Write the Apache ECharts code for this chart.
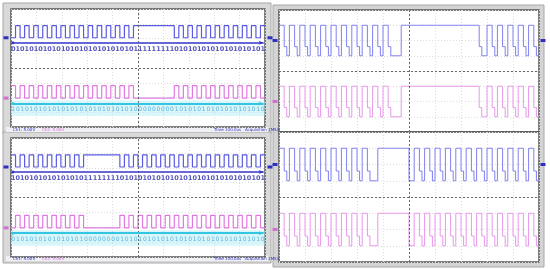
<!DOCTYPE html>
<html><head><meta charset="utf-8">
<script src="https://cdn.jsdelivr.net/npm/echarts@6/dist/echarts.min.js"></script>
<style>html,body{margin:0;padding:0;background:#fff}#c{width:550px;height:269px}</style>
</head><body><div id="c"></div>
<script>
// ---- data: decoded bit streams (left captures) ----
const bitsBlue1 = [0,1,0,1,0,1,0,1,0,1,0,1,0,1,0,1,0,1,0,1,0,1,0,1,0,1,0,1, 1,1,1,1,1,1,1,1, 0,1,0,1,0,1,0,1,0,1,0,1,0,1,0,1,0,1,0,1];
const bitsPink1 = [1,0,1,0,1,0,1,0,1,0,1,0,1,0,1,0,1,0,1,0,1,0,1,0,1,0,1,0, 0,0,0,0,0,0,0,0, 1,0,1,0,1,0,1,0,1,0,1,0,1,0,1,0,1,0,1,0];
const bitsBlue2 = [1,0,1,0,1,0,1,0,1,0,1,0,1,0,1,0, 1,1,1,1,1,1,1,1, 0,1,0,1,0,1,0,1,0,1,0,1,0,1,0,1,0,1,0,1,0,1,0,1,0,1,0,1,0,1,0,1];
const bitsPink2 = [0,1,0,1,0,1,0,1,0,1,0,1,0,1,0,1, 0,0,0,0,0,0,0,0, 1,0,1,0,1,0,1,0,1,0,1,0,1,0,1,0,1,0,1,0,1,0,1,0,1,0,1,0,1,0,1,0];
// ---- data: analog step levels (right captures) 0=low 1=mid 2=high ----
const lvlBlueA = [2,2,1,0,2,2,1,0,2,2,1,0,2,2,1,0,2,2,1,0,2,2,1,0,2,2,1,0,2,2,1,0,2,2,1,0,2,2,1,0,2,2,1,0, 0,0,0, 2,2,2,2,2,2,2,2,2,2,2,2,2,2,2,2,2,2,2,2,2,2,2,2,2,2,2,2,2,2, 1,0,0,2,2,1,0,2,2,1,0,2,2,1,0,2,2,1,0,2,2,1,0];
const lvlPinkA = [2,2,1,0,2,2,1,0,2,2,1,0,2,2,1,0,2,2,1,0,2,2,1,0,2,2,1,0,2,2,1,0,2,2,1,0,2,2,1,0,2,2,1,0, 0,0,0, 2,2,2,2,2,2,2,2,2,2,2,2,2,2,2,2,2,2,2,2,2,2,2,2,2,2,2,2,2,2, 1,0,0,2,2,1,0,2,2,1,0,2,2,1,0,2,2,1,0,2,2,1,0];
const lvlBlueB = [2,2,1,0,2,2,1,0,2,2,1,0,2,2,1,0,2,2,1,0,2,2,1,0,2,2,1,0,2,2,1,0,2,2,1,0, 0,0, 2,2,2,2,2,2,2,2,2,2,2,2, 0,0,2,2,1,0,2,2,1,0,2,2,1,0,2,2,1,0,2,2,1,0,2,2,1,0,2,2,1,0,2,2,1,0,2,2,1,0,2,2,1,0,2,2,1,0,2,2,1,0];
const lvlPinkB = [2,2,1,0,2,2,1,0,2,2,1,0,2,2,1,0,2,2,1,0,2,2,1,0,2,2,1,0,2,2,1,0,2,2,1,0, 0,0, 2,2,2,2,2,2,2,2,2,2,2,2, 0,0,2,2,1,0,2,2,1,0,2,2,1,0,2,2,1,0,2,2,1,0,2,2,1,0,2,2,1,0,2,2,1,0,2,2,1,0,2,2,1,0,2,2,1,0,2,2,1,0];
const statusLeft1 = ['Ch1: 5.00V', 'Ch2: 5.00V'];
const statusRight = 'Time 100.0us   Acquisition 1MS/s';

const chart = echarts.init(document.getElementById('c'));
const BLUE = '#5a5ae2', PINK = '#e07ae0', LBL1 = '#2c2cb0', LBL2 = '#3b9fd8';
const grids = [
  {left:11, top:9, width:254, height:118},
  {left:11, top:138, width:254, height:119},
  {left:279, top:10, width:260, height:122},
  {left:279, top:132, width:260, height:130}
].map(g => Object.assign(g, {show:true, backgroundColor:'#fff', borderColor:'#555', borderWidth:1.5}));

const xAxes = [], yAxes = [];
function axes(g, n){
  xAxes.push({type:'value', gridIndex:g, min:0, max:n, interval:n/10, axisLabel:{show:false}, axisTick:{show:false}, axisLine:{show:false},
    splitLine:{show:true, lineStyle:{color:'#dcdcdc', type:[1,2], width:1}}});
  yAxes.push({type:'value', gridIndex:g, min:0, max:8, interval:1, axisLabel:{show:false}, axisTick:{show:false}, axisLine:{show:false},
    splitLine:{show:true, lineStyle:{color:'#dcdcdc', type:[1,2], width:1}}});
}
function steps(arr, map){
  const d = arr.map((v,i)=>[i, map(v)]);
  d.push([arr.length, map(arr[arr.length-1])]);
  return d;
}
const centre = (n) => ({silent:true, symbol:'none', label:{show:false}, lineStyle:{color:'#6a6a6a', type:[2,2], width:1},
  data:[{xAxis:n/2},{yAxis:4}]});

const series = [];
function leftPanel(g, blue, pink){
  const n = blue.length;
  axes(g, n);
  series.push({type:'line', xAxisIndex:g, yAxisIndex:g, step:'end', showSymbol:false, animation:false,
    data: steps(blue, b => b ? 6.87 : 6.05), lineStyle:{color:BLUE, width:1.2},
    markLine: centre(n),
    markPoint:{silent:true, animation:false, label:{show:false}, data:[
      {coord:[0,6.05], symbol:'rect', symbolSize:[5,3], symbolOffset:[-5,0], itemStyle:{color:'#3030c0'}},
      {coord:[n,6.05], symbol:'rect', symbolSize:[5,3], symbolOffset:[5,0], itemStyle:{color:'#3030c0'}}]}
  });
  series.push({type:'line', xAxisIndex:g, yAxisIndex:g, step:'end', showSymbol:false, animation:false,
    data: steps(pink, b => b ? 2.8 : 1.96), lineStyle:{color:PINK, width:1.2},
    markArea:{silent:true, itemStyle:{color:'rgba(170,236,246,0.45)'}, data:[[{coord:[0,0.75]},{coord:[n,1.8]}]]},
    markLine:{silent:true, animation:false, label:{show:false}, symbol:['circle','arrow'], symbolSize:[3,5],
      lineStyle:{color:'#35c4e2', width:2, type:'solid'}, data:[[{coord:[0.4,1.6]},{coord:[n-0.3,1.6]}]]},
    markPoint:{silent:true, animation:false, label:{show:false}, data:[
      {coord:[0,1.96], symbol:'rect', symbolSize:[5,3], symbolOffset:[-5,0], itemStyle:{color:'#d070d0'}}]}
  });
  series.push({type:'line', xAxisIndex:g, yAxisIndex:g, data:[], animation:false,
    markLine:{silent:true, animation:false, label:{show:false}, symbol:['circle','arrow'], symbolSize:[3,5],
      lineStyle:{color:'#3434c8', width:1.6, type:'solid'}, data:[[{coord:[0.4,5.72]},{coord:[n-0.3,5.72]}]]}});
  series.push({type:'scatter', xAxisIndex:g, yAxisIndex:g, symbolSize:1, itemStyle:{color:'rgba(0,0,0,0)'}, animation:false, silent:true,
    data: blue.map((b,i)=>[i+0.5, 5.3, b]),
    label:{show:true, position:'inside', formatter:p=>String(p.value[2]), color:LBL1, fontSize:6.5, fontWeight:'bold', fontFamily:'DejaVu Sans'}});
  series.push({type:'scatter', xAxisIndex:g, yAxisIndex:g, symbolSize:1, itemStyle:{color:'rgba(0,0,0,0)'}, animation:false, silent:true,
    data: pink.map((b,i)=>[i+0.5, 1.17, b]),
    label:{show:true, position:'inside', formatter:p=>String(p.value[2]), color:LBL2, fontSize:6, fontFamily:'DejaVu Sans'}});
}
function rightPanel(g, blue, pink){
  const n = blue.length;
  axes(g, n);
  const bl = [5.0, 5.6, 7.0], pl = [1.0, 1.6, 3.0];
  series.push({type:'line', xAxisIndex:g, yAxisIndex:g, step:'end', showSymbol:false, animation:false,
    data: steps(blue, v => bl[v]), lineStyle:{color:'#8080f0', width:1},
    markLine: centre(n),
    markPoint:{silent:true, animation:false, label:{show:false}, data:[
      {coord:[0,6], symbol:'rect', symbolSize:[5,3], symbolOffset:[-4,0], itemStyle:{color:'#3030c0'}},
      {coord:[n,6], symbol:'rect', symbolSize:[5,3], symbolOffset:[4,0], itemStyle:{color:'#3030c0'}}]}
  });
  series.push({type:'line', xAxisIndex:g, yAxisIndex:g, step:'end', showSymbol:false, animation:false,
    data: steps(pink, v => pl[v]), lineStyle:{color:'#e798ea', width:1},
    markPoint:{silent:true, animation:false, label:{show:false}, data:[
      {coord:[0,2], symbol:'rect', symbolSize:[5,3], symbolOffset:[-4,0], itemStyle:{color:'#d070d0'}}]}
  });
}
leftPanel(0, bitsBlue1, bitsPink1);
leftPanel(1, bitsBlue2, bitsPink2);
rightPanel(2, lvlBlueA, lvlPinkA);
rightPanel(3, lvlBlueB, lvlPinkB);

function frameLeft(y){
  return [
    {type:'rect', z:-10, shape:{x:3, y:y, width:268, height:131}, style:{fill:'#d9d9d9', stroke:'#a8a8a8', lineWidth:1}},
    {type:'rect', z:-9, shape:{x:6, y:y+124, width:262, height:5}, style:{fill:'#eef0f4'}},
    {type:'text', z:5, x:13, y:y+124.5, style:{text:statusLeft1[0], fill:'#3030c0', font:'4px DejaVu Sans'}},
    {type:'text', z:5, x:42, y:y+124.5, style:{text:statusLeft1[1], fill:'#d070d0', font:'4px DejaVu Sans'}},
    {type:'text', z:5, x:214, y:y+124.5, style:{text:statusRight, fill:'#3030c0', font:'4px DejaVu Sans'}}
  ];
}
const graphic = [].concat(frameLeft(3), frameLeft(132), [
  {type:'rect', z:-10, shape:{x:273, y:5, width:271, height:262}, style:{fill:'#d4d4d4', stroke:'#a8a8a8', lineWidth:1}}
]);

chart.setOption({animation:false, grid:grids, xAxis:xAxes, yAxis:yAxes, series:series, graphic:graphic});
</script></body></html>
